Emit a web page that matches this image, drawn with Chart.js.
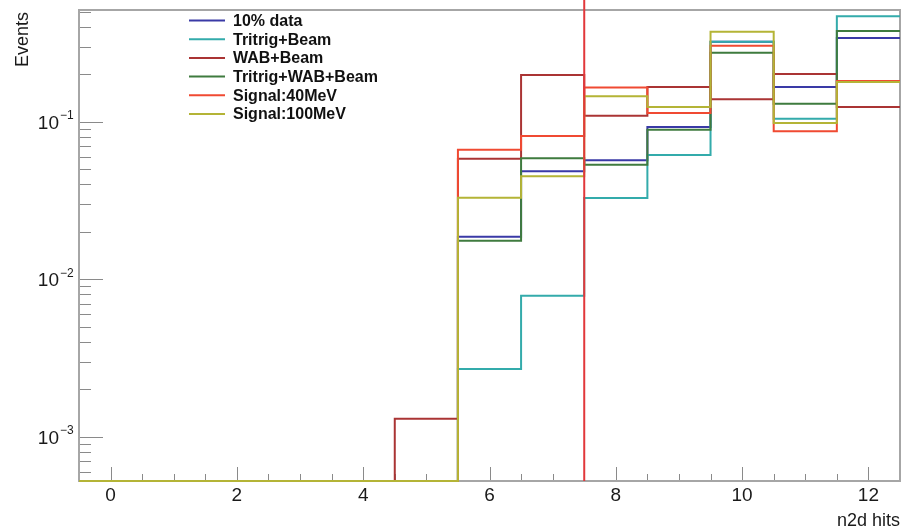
<!DOCTYPE html>
<html>
<head>
<meta charset="utf-8">
<script src="https://cdn.jsdelivr.net/npm/chart.js@4/dist/chart.umd.min.js"></script>
<style>
  html, body { margin: 0; padding: 0; background: #ffffff; }
  #wrap { width: 905px; height: 531px; }
</style>
</head>
<body>
<div id="wrap"><canvas id="c" width="905" height="531"></canvas></div>
<script>
// n2d hits per event, one bin per integer value
const binCenters = [0, 1, 2, 3, 4, 5, 6, 7, 8, 9, 10, 11, 12];

const seriesNames = ['10% data', 'Tritrig+Beam', 'WAB+Beam', 'Tritrig+WAB+Beam', 'Signal:40MeV', 'Signal:100MeV'];
const seriesColors = ['#3a3aa6', '#33abab', '#aa3434', '#3f7b3f', '#f04a32', '#b4b436'];

const data10pct   = [0, 0, 0, 0, 0, 0,      0.0186,  0.0484,  0.0569, 0.0925, 0.322, 0.166,  0.340];
const tritrigBeam = [0, 0, 0, 0, 0, 0,      0.00269, 0.00785, 0.0328, 0.0615, 0.322, 0.1045, 0.467];
const wabBeam     = [0, 0, 0, 0, 0, 0.0013, 0.0582,  0.198,   0.109,  0.166,  0.139, 0.201,  0.124];
const tritrigWab  = [0, 0, 0, 0, 0, 0,      0.01754, 0.0586,  0.0533, 0.0890, 0.274, 0.130,  0.377];
const signal40    = [0, 0, 0, 0, 0, 0,      0.0664,  0.0811,  0.165,  0.1136, 0.304, 0.0869, 0.181];
const signal100   = [0, 0, 0, 0, 0, 0,      0.0329,  0.0450,  0.145,  0.124,  0.373, 0.0981, 0.1787];

const seriesValues = [data10pct, tritrigBeam, wabBeam, tritrigWab, signal40, signal100];

// selection cut on n2d hits
const cutValue = 7.5;

// axis ranges and labels
const xRange = [-0.5, 12.5];
const yRange = [5.233e-4, 0.5119];
const xTickLabels = [0, 2, 4, 6, 8, 10, 12];
const yDecades = [1e-3, 1e-2, 1e-1];
const yExponents = ['\u22123', '\u22122', '\u22121'];
const xTitle = 'n2d hits';
const yTitle = 'Events';

const FONT = '"Liberation Sans", Arial, Helvetica, sans-serif';
const binHalfWidth = 0.5;

// histogram outline: each bin is held from its low edge to its high edge,
// empty bins sit on the bottom of the frame
function histSteps(values) {
  const pts = binCenters.map((c, i) => ({ x: c - binHalfWidth, y: values[i] > 0 ? values[i] : yRange[0] }));
  const last = values[values.length - 1];
  pts.push({ x: binCenters[binCenters.length - 1] + binHalfWidth, y: last > 0 ? last : yRange[0] });
  return pts;
}

const datasets = seriesValues.map((vals, i) => ({
  label: seriesNames[i],
  data: histSteps(vals),
  borderColor: seriesColors[i],
  backgroundColor: seriesColors[i],
  borderWidth: 2,
  pointRadius: 0,
  stepped: true,
  fill: false,
  clip: false,
  order: seriesValues.length - 1 - i
}));

// frame, ticks and axis labels in the style of the analysis plots
const axesPlugin = {
  id: 'frameAxes',
  beforeDatasetsDraw(chart) {
    const { ctx, chartArea: a, scales: { x, y } } = chart;
    ctx.save();
    // ticks
    ctx.strokeStyle = '#8a8a8a';
    ctx.lineWidth = 1;
    for (let v = xTickLabels[0]; v <= xRange[1] + 1e-9; v += 0.5) {
      const px = Math.round(x.getPixelForValue(v)) + 0.5;
      const len = (Math.abs(v % 2) < 1e-9) ? 14 : 7;
      ctx.beginPath();
      ctx.moveTo(px, a.bottom);
      ctx.lineTo(px, a.bottom - len);
      ctx.stroke();
    }
    for (let d = -4; d <= 0; d++) {
      for (let m = 1; m <= 9; m++) {
        const v = m * Math.pow(10, d);
        if (v < yRange[0] || v > yRange[1]) continue;
        const py = Math.round(y.getPixelForValue(v)) + 0.5;
        const len = m === 1 ? 24 : 12;
        ctx.beginPath();
        ctx.moveTo(a.left, py);
        ctx.lineTo(a.left + len, py);
        ctx.stroke();
      }
    }
    // frame
    ctx.strokeStyle = '#a6a6a6';
    ctx.lineWidth = 2;
    ctx.strokeRect(a.left, a.top, a.right - a.left, a.bottom - a.top);

    // x tick labels
    ctx.fillStyle = '#1a1a1a';
    ctx.font = '19px ' + FONT;
    ctx.textAlign = 'center';
    ctx.textBaseline = 'middle';
    xTickLabels.forEach(v => ctx.fillText(String(v), x.getPixelForValue(v), 496));

    // y tick labels: 10 with a raised exponent
    yDecades.forEach((v, i) => {
      const py = y.getPixelForValue(v);
      ctx.font = '19px ' + FONT;
      ctx.textAlign = 'right';
      ctx.textBaseline = 'middle';
      ctx.fillText('10', 59, py + 2);
      ctx.font = '12px ' + FONT;
      ctx.textAlign = 'left';
      ctx.fillText(yExponents[i], 60, py - 6);
    });

    // axis titles
    ctx.font = '18px ' + FONT;
    ctx.textAlign = 'right';
    ctx.textBaseline = 'alphabetic';
    ctx.fillText(xTitle, a.right, 526);
    ctx.save();
    ctx.translate(28, a.top + 2);
    ctx.rotate(-Math.PI / 2);
    ctx.textAlign = 'right';
    ctx.fillText(yTitle, 0, 0);
    ctx.restore();
    ctx.restore();
  },
  afterDatasetsDraw(chart) {
    const { ctx, chartArea: a, scales: { x } } = chart;
    const px = x.getPixelForValue(cutValue);
    ctx.save();
    ctx.strokeStyle = '#e2383b';
    ctx.lineWidth = 2;
    ctx.beginPath();
    ctx.moveTo(px, 0);
    ctx.lineTo(px, a.bottom);
    ctx.stroke();

    // legend
    ctx.font = 'bold 16px ' + FONT;
    ctx.textAlign = 'left';
    ctx.textBaseline = 'middle';
    chart.data.datasets.forEach((ds, i) => {
      const ry = 20.5 + i * 18.7;
      ctx.strokeStyle = ds.borderColor;
      ctx.lineWidth = 2;
      ctx.beginPath();
      ctx.moveTo(189, ry);
      ctx.lineTo(225, ry);
      ctx.stroke();
      ctx.fillStyle = '#111111';
      ctx.fillText(ds.label, 233, ry + 1);
    });
    ctx.restore();
  }
};

new Chart(document.getElementById('c'), {
  type: 'line',
  data: { datasets },
  options: {
    responsive: false,
    devicePixelRatio: 1,
    animation: false,
    layout: { padding: { left: 79, right: 5, top: 10, bottom: 50 } },
    plugins: { legend: { display: false }, tooltip: { enabled: false } },
    scales: {
      x: { type: 'linear', min: xRange[0], max: xRange[1], display: false },
      y: { type: 'logarithmic', min: yRange[0], max: yRange[1], display: false }
    }
  },
  plugins: [axesPlugin]
});
</script>
</body>
</html>
